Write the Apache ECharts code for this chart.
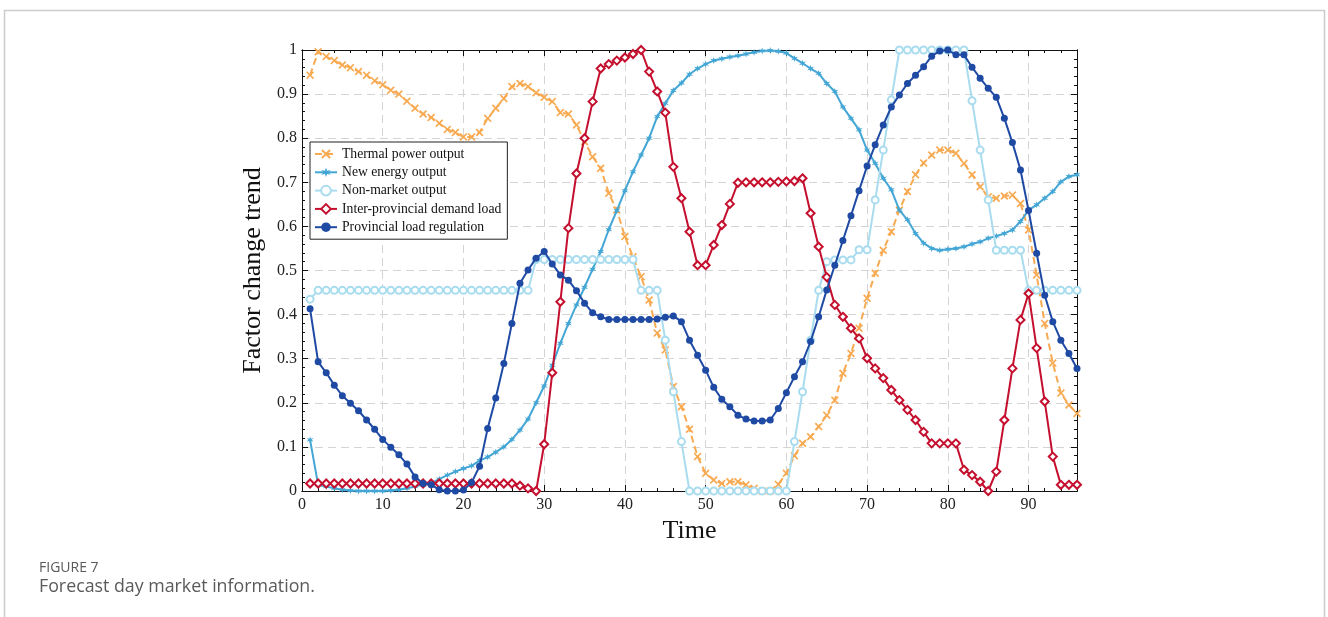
<!DOCTYPE html>
<html>
<head>
<meta charset="utf-8">
<title>Forecast day market information</title>
<script src="https://cdn.jsdelivr.net/npm/echarts@6/dist/echarts.min.js"></script>
<style>
  html, body { margin: 0; padding: 0; background: #ffffff; }
  #chart { width: 1328px; height: 617px; }
</style>
</head>
<body>
<div id="chart"></div>
<script>
// Time slots 1..96 (15-minute periods of the day)
const timeSlots = Array.from({ length: 96 }, (_, i) => i + 1);

const seriesNames = [
  'Thermal power output',
  'New energy output',
  'Non-market output',
  'Inter-provincial demand load',
  'Provincial load regulation'
];

const thermalPower = [
  0.943, 0.996, 0.985, 0.976, 0.966, 0.960, 0.951, 0.943, 0.930, 0.921,
  0.909, 0.900, 0.884, 0.868, 0.855, 0.847, 0.834, 0.820, 0.813, 0.803,
  0.803, 0.813, 0.845, 0.868, 0.890, 0.917, 0.924, 0.917, 0.903, 0.893,
  0.883, 0.858, 0.855, 0.830, 0.792, 0.758, 0.732, 0.675, 0.637, 0.577,
  0.531, 0.486, 0.433, 0.358, 0.320, 0.237, 0.191, 0.140, 0.078, 0.040,
  0.025, 0.017, 0.021, 0.021, 0.014, 0.006, 0.000, 0.000, 0.015, 0.040,
  0.080, 0.108, 0.123, 0.146, 0.172, 0.206, 0.267, 0.312, 0.369, 0.437,
  0.494, 0.546, 0.588, 0.637, 0.679, 0.717, 0.744, 0.762, 0.773, 0.773,
  0.766, 0.743, 0.717, 0.690, 0.667, 0.664, 0.669, 0.671, 0.652, 0.592,
  0.490, 0.380, 0.290, 0.222, 0.195, 0.176
];

const newEnergy = [
  0.116, 0.014, 0.010, 0.006, 0.003, 0.001, 0.000, 0.000, 0.000, 0.000,
  0.001, 0.003, 0.006, 0.010, 0.015, 0.018, 0.027, 0.036, 0.044, 0.051,
  0.057, 0.069, 0.077, 0.088, 0.100, 0.117, 0.138, 0.163, 0.200, 0.238,
  0.285, 0.335, 0.380, 0.422, 0.462, 0.503, 0.543, 0.593, 0.636, 0.681,
  0.724, 0.762, 0.800, 0.849, 0.879, 0.908, 0.925, 0.945, 0.958, 0.968,
  0.976, 0.980, 0.984, 0.987, 0.991, 0.995, 0.998, 0.999, 0.997, 0.993,
  0.981, 0.970, 0.958, 0.947, 0.924, 0.906, 0.871, 0.845, 0.819, 0.773,
  0.743, 0.709, 0.683, 0.637, 0.615, 0.584, 0.562, 0.550, 0.546, 0.548,
  0.550, 0.554, 0.560, 0.565, 0.573, 0.578, 0.584, 0.592, 0.611, 0.637,
  0.649, 0.664, 0.679, 0.701, 0.713, 0.717
];

const nonMarket = [
  0.435, 0.455, 0.455, 0.455, 0.455, 0.455, 0.455, 0.455, 0.455, 0.455,
  0.455, 0.455, 0.455, 0.455, 0.455, 0.455, 0.455, 0.455, 0.455, 0.455,
  0.455, 0.455, 0.455, 0.455, 0.455, 0.455, 0.455, 0.455, 0.525, 0.525,
  0.525, 0.525, 0.525, 0.525, 0.525, 0.525, 0.525, 0.525, 0.525, 0.525,
  0.525, 0.455, 0.455, 0.455, 0.342, 0.225, 0.112, 0.000, 0.000, 0.000,
  0.000, 0.000, 0.000, 0.000, 0.000, 0.000, 0.000, 0.000, 0.000, 0.000,
  0.112, 0.225, 0.342, 0.455, 0.520, 0.524, 0.524, 0.524, 0.547, 0.547,
  0.660, 0.773, 0.887, 1.000, 1.000, 1.000, 1.000, 1.000, 1.000, 1.000,
  1.000, 1.000, 0.885, 0.773, 0.660, 0.546, 0.546, 0.546, 0.546, 0.455,
  0.455, 0.455, 0.455, 0.455, 0.455, 0.455
];

const interProvincial = [
  0.017, 0.017, 0.017, 0.017, 0.017, 0.017, 0.017, 0.017, 0.017, 0.017,
  0.017, 0.017, 0.017, 0.017, 0.017, 0.017, 0.017, 0.017, 0.017, 0.017,
  0.017, 0.017, 0.017, 0.017, 0.017, 0.017, 0.012, 0.006, 0.000, 0.106,
  0.268, 0.429, 0.596, 0.720, 0.800, 0.883, 0.958, 0.968, 0.976, 0.983,
  0.991, 1.000, 0.951, 0.906, 0.858, 0.735, 0.664, 0.588, 0.512, 0.512,
  0.558, 0.603, 0.651, 0.699, 0.700, 0.700, 0.700, 0.700, 0.701, 0.702,
  0.703, 0.709, 0.630, 0.554, 0.485, 0.422, 0.395, 0.369, 0.346, 0.301,
  0.278, 0.256, 0.229, 0.206, 0.184, 0.161, 0.134, 0.108, 0.108, 0.108,
  0.108, 0.048, 0.036, 0.021, 0.000, 0.044, 0.161, 0.278, 0.388, 0.448,
  0.324, 0.203, 0.078, 0.014, 0.014, 0.014
];

const provincialRegulation = [
  0.413, 0.293, 0.268, 0.240, 0.216, 0.199, 0.182, 0.161, 0.140, 0.117,
  0.099, 0.082, 0.061, 0.032, 0.017, 0.014, 0.003, 0.000, 0.000, 0.002,
  0.019, 0.056, 0.142, 0.211, 0.289, 0.380, 0.471, 0.501, 0.528, 0.543,
  0.515, 0.490, 0.478, 0.454, 0.426, 0.404, 0.395, 0.389, 0.389, 0.389,
  0.389, 0.389, 0.389, 0.390, 0.394, 0.397, 0.384, 0.342, 0.308, 0.274,
  0.235, 0.208, 0.191, 0.172, 0.163, 0.159, 0.159, 0.161, 0.187, 0.223,
  0.259, 0.293, 0.339, 0.395, 0.456, 0.512, 0.568, 0.624, 0.681, 0.737,
  0.785, 0.830, 0.871, 0.898, 0.924, 0.943, 0.962, 0.986, 0.998, 1.000,
  0.989, 0.989, 0.961, 0.936, 0.913, 0.893, 0.845, 0.790, 0.728, 0.636,
  0.539, 0.444, 0.384, 0.342, 0.312, 0.278
];

const colors = ['#F8AA52', '#43A6D5', '#A9DCEE', '#C4102E', '#1F4AA4'];

// Marker shapes
const crossMark = 'path://M0,1.5L1.5,0L5,3.5L8.5,0L10,1.5L6.5,5L10,8.5L8.5,10L5,6.5L1.5,10L0,8.5L3.5,5Z';
const starMark = 'path://M5,0L4,3.27L0.67,2.5L3,5L0.67,7.5L4,6.73L5,10L6,6.73L9.33,7.5L7,5L9.33,2.5L6,3.27Z';

const serif = '"Liberation Serif", "Times New Roman", serif';
const pair = vals => vals.map((v, i) => [timeSlots[i], v]);

const chart = echarts.init(document.getElementById('chart'), null, { renderer: 'canvas' });

const tickLine = { color: '#111', width: 1 };
const frameLine = { show: true, onZero: false, lineStyle: { color: '#111', width: 1 } };

// Tick-only axes (no labels, no grid) used for the boxed frame and the inward minor ticks
function tickAxis(position, min, max, interval, len) {
  return {
    type: 'value', position, min, max, interval,
    axisLine: frameLine,
    axisTick: { show: true, inside: true, length: len, lineStyle: tickLine },
    minorTick: { show: false },
    axisLabel: { show: false },
    splitLine: { show: false }
  };
}

const option = {
  backgroundColor: '#ffffff',
  animation: false,
  grid: { left: 302, right: 251, top: 50, bottom: 126, show: false },
  legend: {
    orient: 'vertical',
    left: 310,
    top: 142,
    padding: [5, 6, 5, 4],
    itemWidth: 22,
    itemHeight: 12,
    itemGap: 4.3,
    backgroundColor: '#ffffff',
    borderColor: '#222',
    borderWidth: 1,
    borderRadius: 0,
    textStyle: { fontFamily: serif, fontSize: 13.7, color: '#111', lineHeight: 12 },
    data: seriesNames
  },
  xAxis: [
    {
      type: 'value', position: 'bottom', min: 0, max: 96, interval: 10,
      name: 'Time', nameLocation: 'middle', nameGap: 21,
      nameTextStyle: { fontFamily: serif, fontSize: 26, color: '#111' },
      axisLine: frameLine,
      axisTick: { show: true, inside: true, length: 6, lineStyle: tickLine },
      axisLabel: { fontFamily: serif, fontSize: 16, color: '#222', margin: 6, showMaxLabel: false },
      splitLine: { show: true, lineStyle: { color: '#d4d4d4', width: 1, type: [8, 5] } }
    },
    tickAxis('top', 0, 96, 10, 6),
    tickAxis('bottom', 0, 96, 2, 3),
    tickAxis('top', 0, 96, 2, 3)
  ],
  yAxis: [
    {
      type: 'value', position: 'left', min: 0, max: 1, interval: 0.1,
      name: 'Factor change trend', nameLocation: 'middle', nameGap: 24, nameRotate: 90,
      nameTextStyle: { fontFamily: serif, fontSize: 26, color: '#111' },
      axisLine: frameLine,
      axisTick: { show: true, inside: true, length: 6, lineStyle: tickLine },
      axisLabel: {
        fontFamily: serif, fontSize: 16, color: '#222', margin: 5,
        formatter: v => String(+v.toFixed(1))
      },
      splitLine: { show: true, lineStyle: { color: '#d4d4d4', width: 1, type: [8, 5] } }
    },
    tickAxis('right', 0, 1, 0.1, 6),
    tickAxis('left', 0, 1, 0.02, 3),
    tickAxis('right', 0, 1, 0.02, 3)
  ],
  series: [
    {
      name: seriesNames[0], type: 'line', data: pair(thermalPower),
      symbol: crossMark, symbolSize: 8,
      itemStyle: { color: colors[0] },
      lineStyle: { color: colors[0], width: 2, type: [7, 4] },
      z: 2
    },
    {
      name: seriesNames[1], type: 'line', data: pair(newEnergy),
      symbol: starMark, symbolSize: 7,
      itemStyle: { color: colors[1] },
      lineStyle: { color: colors[1], width: 2 },
      z: 3
    },
    {
      name: seriesNames[2], type: 'line', data: pair(nonMarket),
      symbol: 'emptyCircle', symbolSize: 7,
      itemStyle: { color: colors[2], borderWidth: 1.5 },
      lineStyle: { color: colors[2], width: 2 },
      z: 4
    },
    {
      name: seriesNames[3], type: 'line', data: pair(interProvincial),
      symbol: 'emptyDiamond', symbolSize: 8,
      itemStyle: { color: colors[3], borderWidth: 1.5 },
      lineStyle: { color: colors[3], width: 2 },
      z: 5
    },
    {
      name: seriesNames[4], type: 'line', data: pair(provincialRegulation),
      symbol: 'circle', symbolSize: 7,
      itemStyle: { color: colors[4] },
      lineStyle: { color: colors[4], width: 2 },
      z: 6
    }
  ],
  graphic: [
    {
      type: 'rect', silent: true, z: -1,
      shape: { x: 4.5, y: 10.5, width: 1320, height: 700 },
      style: { fill: 'none', stroke: '#cccccc', lineWidth: 1.5 }
    },
    {
      type: 'text', left: 39, top: 561,
      style: { text: 'FIGURE 7', fill: '#5a5a5a', font: '14px "Open Sans", "Noto Sans", sans-serif' }
    },
    {
      type: 'text', left: 39, top: 578,
      style: { text: 'Forecast day market information.', fill: '#5a5a5a', font: '17.8px "Open Sans", "Noto Sans", sans-serif' }
    }
  ]
};

chart.setOption(option);
</script>
</body>
</html>
